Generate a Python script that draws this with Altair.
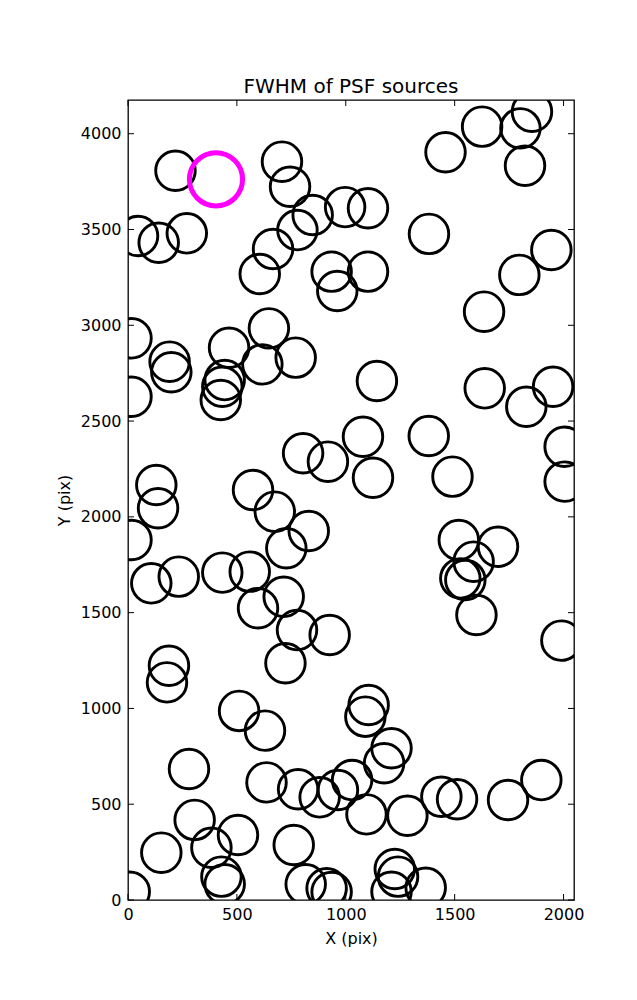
import altair as alt
import pandas as pd

# Source centroids (pix)
src_x = [218, 46, 141, 270, 707, 744, 848, 997, 778, 666, 605, 935, 961,
         1458, 1626, 1802, 1855, 1823, 1102, 1382, 1944, 1797, 1102, 1635,
         16, 191, 199, 16, 464, 647, 617, 770, 444, 433, 426, 804, 918,
         130, 138, 574, 674, 1143, 1638, 1829, 1952, 1079, 1381, 2005, 1125,
         1490, 2005, 16, 107, 233, 433, 559, 727, 830, 597, 715, 776, 926,
         723, 188, 179, 1519, 1699, 1587, 1526, 1549, 1600, 1990, 510, 629,
         280, 636, 781, 880, 964, 306, 153, 383, 505, 761, 429, 444, 8, 816,
         912, 935, 1105, 1090, 1210, 1176, 1029, 1095, 1283, 1439, 1511,
         1745, 1898, 1225, 1240, 1210, 1367]
src_y = [3807, 3466, 3431, 3480, 3854, 3723, 3576, 3617, 3497, 3398, 3268,
         3280, 3179, 3903, 4037, 4028, 4115, 3833, 3611, 3477, 3393, 3263,
         3280, 3071, 2932, 2810, 2755, 2627, 2883, 2984, 2796, 2831, 2714,
         2679, 2610, 2332, 2288, 2166, 2045, 2140, 2027, 2709, 2671, 2575,
         2679, 2418, 2422, 2366, 2204, 2210, 2184, 1879, 1653, 1688, 1709,
         1714, 1836, 1926, 1523, 1583, 1409, 1383, 1236, 1223, 1136, 1879,
         1844, 1766, 1679, 1670, 1488, 1354, 987, 884, 684, 614, 578, 536,
         574, 418, 247, 273, 339, 287, 122, 82, 43, 82, 61, 42, 1018, 957,
         792, 714, 626, 447, 440, 539, 526, 522, 626, 162, 122, 43, 64]

# Highlighted source
ref_x = [404]
ref_y = [3762]

x_ticks = [0, 500, 1000, 1500, 2000]
y_ticks = [0, 500, 1000, 1500, 2000, 2500, 3000, 3500, 4000]
x_domain = [0, 2048]
y_domain = [0, 4176]

W, H = 446, 800
FONT = "DejaVu Sans"
TL = 6

xs = alt.Scale(domain=x_domain, nice=False, zero=False)
ys = alt.Scale(domain=y_domain, nice=False, zero=False)

xaxis = alt.Axis(title="X (pix)", values=x_ticks, tickSize=0, domain=False, grid=False,
                 labelFontSize=16, titleFontSize=16, labelPadding=6, titlePadding=8,
                 labelColor="black", titleColor="black", labelFont=FONT, titleFont=FONT,
                 titleFontWeight="normal", format="d", labelFlush=False)
yaxis = alt.Axis(title="Y (pix)", values=y_ticks, tickSize=0, domain=False, grid=False,
                 labelFontSize=16, titleFontSize=16, labelPadding=7, titlePadding=8,
                 labelColor="black", titleColor="black", labelFont=FONT, titleFont=FONT,
                 titleFontWeight="normal", format="d", labelFlush=False)

src = pd.DataFrame({"x": src_x, "y": src_y})
ref = pd.DataFrame({"x": ref_x, "y": ref_y})
xt = pd.DataFrame({"x": x_ticks})
yt = pd.DataFrame({"y": y_ticks})

X = alt.X("x:Q", scale=xs, axis=xaxis)
Y = alt.Y("y:Q", scale=ys, axis=yaxis)

tick_bottom = alt.Chart(xt).mark_rule(color="black", strokeWidth=1).encode(
    x=X, y=alt.value(H), y2=alt.value(H - TL))
tick_top = alt.Chart(xt).mark_rule(color="black", strokeWidth=1).encode(
    x=X, y=alt.value(0), y2=alt.value(TL))
tick_left = alt.Chart(yt).mark_rule(color="black", strokeWidth=1).encode(
    y=Y, x=alt.value(0), x2=alt.value(TL))
tick_right = alt.Chart(yt).mark_rule(color="black", strokeWidth=1).encode(
    y=Y, x=alt.value(W), x2=alt.value(W - TL))

circles = alt.Chart(src).mark_point(shape="circle", filled=False, color="black",
                                    strokeWidth=2.9, size=1562, opacity=1, clip=True).encode(x=X, y=Y)
highlight = alt.Chart(ref).mark_point(shape="circle", filled=False, color="#ff00ff",
                                      strokeWidth=5, size=2827, opacity=1, clip=True).encode(x=X, y=Y)

chart = alt.layer(tick_bottom, tick_top, tick_left, tick_right, circles, highlight).properties(
    width=W, height=H,
    title=alt.TitleParams("FWHM of PSF sources", fontSize=20, font=FONT, fontWeight="normal",
                          anchor="middle", offset=-13, baseline="alphabetic", color="black",
                          frame="group"),
    autosize=alt.AutoSizeParams(type="none"),
    padding={"left": 120, "top": 92, "right": 55, "bottom": 92},
).configure(background="white", view=alt.ViewConfig(stroke="black", strokeWidth=1.3))

chart.save("out.html", embed_options={"renderer": "svg", "actions": False})
